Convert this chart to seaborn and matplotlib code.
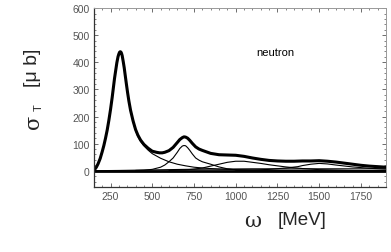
import numpy as np
import pandas as pd
import matplotlib
matplotlib.use("Agg")
import matplotlib.pyplot as plt
import seaborn as sns
from matplotlib.ticker import MultipleLocator

# photon energy (MeV) and cross sections (micro barn)
omega_delta = [150, 165, 175, 188, 200, 210, 220, 230, 240, 250, 260, 268, 274, 280, 288, 295,
               300, 304, 308, 312, 316, 320, 326, 332, 338, 345, 352, 360, 370, 385, 400,
               414, 430, 450, 475, 500, 550, 600, 650, 700, 750, 800, 900, 1000, 1200, 1500, 1900]
delta = [0, 13, 25, 45, 70, 93, 120, 150, 185, 225, 270, 310, 340, 365, 398, 420,
         430, 436, 438, 437, 432, 423, 402, 378, 350, 318, 287, 255, 220, 180, 148,
         126, 108, 92, 76, 63, 46, 33, 24, 18, 13, 10, 6, 4, 2, 1, 0]

omega_d13 = [400, 450, 500, 550, 575, 600, 625, 650, 665, 680, 690, 700, 712, 725, 740,
             760, 780, 800, 850, 900, 950, 1000, 1100, 1200, 1900]
d13 = [1, 2, 5, 13, 21, 33, 47, 68, 82, 91, 93, 92, 85, 75, 62, 47, 39, 33, 24, 14,
       7, 3, 1, 0, 0]

omega_f15 = [600, 700, 750, 800, 850, 900, 950, 1000, 1050, 1100, 1150, 1200, 1300,
             1400, 1500, 1700, 1900]
f15 = [1, 3, 6, 10, 17, 24, 31, 35, 35, 31, 27, 22, 14, 8, 4, 1, 0]

omega_f37 = [1000, 1100, 1200, 1300, 1372, 1400, 1450, 1500, 1550, 1600, 1700, 1800, 1900]
f37 = [0, 2, 5, 10, 15, 19, 24, 27, 25, 21, 14, 9, 6]

omega_bg = [150, 300, 500, 700, 900, 1100, 1300, 1500, 1700, 1900]
background = [0, 1, 3, 5, 6, 7, 7, 7, 7, 7]

omega_zero = [150, 1900]
zero_line = [0, 0]

omega_total = [150, 165, 175, 188, 200, 210, 220, 230, 240, 250, 260, 268, 274, 280, 288,
               295, 300, 304, 308, 312, 316, 320, 326, 332, 338, 345, 352, 360, 370, 385,
               400, 414, 430, 450, 475, 500, 525, 544, 560, 575, 600, 625, 650, 665, 680,
               690, 700, 712, 725, 740, 760, 780, 800, 850, 900, 950, 1000, 1050, 1100,
               1150, 1200, 1250, 1300, 1350, 1400, 1450, 1500, 1550, 1600, 1650, 1700,
               1750, 1800, 1850, 1900]
total = [0, 13, 25, 45, 70, 93, 120, 150, 186, 226, 271, 311, 341, 366, 399,
         421, 431, 437, 439, 438, 433, 424, 403, 380, 352, 320, 289, 257, 223, 184,
         152, 131, 113, 97, 83, 72, 68, 66, 66, 68, 74, 86, 104, 115, 122,
         125, 124, 120, 112, 101, 88, 80, 75, 64, 59, 58, 57, 53, 47,
         42, 38, 36, 35, 35, 36, 36, 37, 35, 32, 28, 24,
         20, 17, 15, 13]

sns.set_style("ticks")
plt.rcParams['font.family'] = ['Liberation Sans', 'DejaVu Sans']
plt.rcParams['lines.solid_joinstyle'] = 'round'
plt.rcParams['lines.solid_capstyle'] = 'round'

fig = plt.figure(figsize=(3.91, 2.53), dpi=100)
ax = fig.add_axes([0.240, 0.257, 0.747, 0.707])

thin = 0.8
for xs, ys in [(omega_delta, delta), (omega_d13, d13), (omega_f15, f15),
               (omega_f37, f37), (omega_bg, background)]:
    sns.lineplot(x=xs, y=ys, ax=ax, color='black', lw=thin, sort=False)
sns.lineplot(x=omega_zero, y=zero_line, ax=ax, color='black', lw=2.0, sort=False)
sns.lineplot(x=omega_total, y=total, ax=ax, color='black', lw=2.2, sort=False)

ax.set_xlim(150, 1900)
ax.set_ylim(-60, 600)
ax.xaxis.set_major_locator(MultipleLocator(250))
ax.xaxis.set_minor_locator(MultipleLocator(50))
ax.yaxis.set_major_locator(MultipleLocator(100))
ax.yaxis.set_minor_locator(MultipleLocator(20))
ax.tick_params(which='both', direction='in', top=True, right=True,
               colors='#555555', labelsize=7.5, pad=3)
ax.tick_params(which='major', length=3, width=0.6)
ax.tick_params(which='minor', length=1.5, width=0.5)
for side in ['left', 'bottom']:
    ax.spines[side].set_color('#333333')
    ax.spines[side].set_linewidth(0.9)
for side in ['top', 'right']:
    ax.spines[side].set_color('#999999')
    ax.spines[side].set_linewidth(0.7)
ax.set_xlabel('')
ax.set_ylabel('')

ax.text(1240, 438, 'neutron', fontsize=8, ha='center', va='center', color='black')

fig.text(0.772, 0.130, '[MeV]', fontsize=13.5, ha='center', va='center')
fig.text(0.645, 0.126, 'ω', fontsize=15, ha='center', va='center', family='DejaVu Serif')
fig.text(0.082, 0.733, '[μ b]', fontsize=14, ha='center', va='center', rotation=90)
fig.text(0.086, 0.518, 'σ', fontsize=15, ha='center', va='center', rotation=90,
         family='DejaVu Serif')
fig.text(0.098, 0.575, 'T', fontsize=8, ha='center', va='center', rotation=90)

fig.savefig('out.png', dpi=100)
